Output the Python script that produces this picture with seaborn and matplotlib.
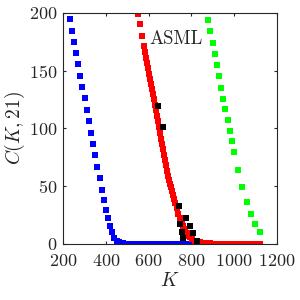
import matplotlib
matplotlib.use('Agg')
import matplotlib.pyplot as plt
import seaborn as sns
import pandas

# blue series
blue_k = [230, 240, 250, 260, 270, 280, 290, 300, 310, 320, 330, 340, 350, 360, 370,
          380, 390, 400, 410, 420, 430, 440, 450, 460, 470, 480, 490, 500, 520, 540,
          560, 580, 600, 620, 640, 660, 680, 700, 720, 740, 760, 780, 800, 820, 840]
blue_c = [194.5, 184.7, 174.9, 165.1, 155.3, 145.4, 135.6, 125.8, 115.8, 105.9, 96.1, 86.3, 76.5, 66.6, 56.8,
          46.4, 37.7, 29.0, 21.8, 15.2, 9.7, 5.0, 2.4, 1.0, 0.3, 0.1, 0, 0, 0, 0,
          0, 0, 0, 0, 0, 0, 0, 0, 0, 0, 0, 0, 0, 0, 0]

# red series
red_k = [549, 559, 569, 578, 583, 588, 592, 597, 602, 606, 611, 615, 619, 625, 630,
         634, 639, 644, 650, 655, 659, 664, 669, 673, 678, 683, 687, 692, 697, 701,
         705, 709, 714, 719, 725, 731, 739, 747, 755, 760, 766, 772, 778, 786, 794,
         805, 817, 829, 841, 856, 871, 880, 890, 900, 910, 920, 930, 940, 950, 960,
         970, 980, 990, 1000, 1020, 1040, 1060, 1080, 1100, 1120]
red_c = [199, 190, 180, 171, 166, 161, 157, 152, 147, 143, 138, 134, 130, 125, 120,
         116, 111, 106, 101, 96, 91, 86, 82, 77, 72.5, 68, 63, 59, 55, 52,
         49, 46, 42, 39, 35, 30.5, 26, 22, 17.5, 15, 12.5, 10.5, 8.8, 7, 5.4,
         3.8, 2.5, 1.6, 1.0, 0.6, 0.3, 0.2, 0.1, 0, 0, 0, 0, 0, 0, 0,
         0, 0, 0, 0, 0, 0, 0, 0, 0, 0]

# green series
green_k = [880, 890, 900, 910, 920, 930, 940, 950, 960, 970, 980, 990, 1000,
           1020, 1040, 1060, 1080, 1100, 1120]
green_c = [193.9, 184.1, 174.2, 164.7, 154.9, 145.1, 135.2, 125.6, 116.4, 106.9, 97.6, 88.7, 79.7,
           63.8, 48.8, 35.7, 25.3, 16.9, 10.2]

# ASML observations
asml_k = [645, 666, 744, 774, 747, 794, 806, 755, 762, 825]
asml_c = [119, 101, 33, 22, 17, 15, 9, 10, 5, 2]

sns.set_style('ticks', {'xtick.direction': 'in', 'ytick.direction': 'in'})
plt.rcParams['font.family'] = ['cmr10', 'DejaVu Serif']
plt.rcParams['mathtext.fontset'] = 'cm'
plt.rcParams['axes.formatter.use_mathtext'] = True

fig, ax = plt.subplots(figsize=(3, 3), dpi=100)
fig.subplots_adjust(left=0.211, right=0.922, top=0.957, bottom=0.188)

sns.scatterplot(x=blue_k, y=blue_c, marker='s', color='#0000ff', s=14, linewidth=0, ax=ax)
sns.scatterplot(x=red_k, y=red_c, marker='s', color='#ff0000', s=14, linewidth=0, ax=ax)
sns.scatterplot(x=green_k, y=green_c, marker='s', color='#00ff00', s=14, linewidth=0, ax=ax)
sns.scatterplot(x=asml_k, y=asml_c, marker='s', color='black', s=22, linewidth=0, ax=ax)

ax.text(728, 177, 'ASML', fontsize=13.5, ha='center', va='center')

ax.set_xlim(200, 1200)
ax.set_ylim(0, 200)
ax.set_xticks([200, 400, 600, 800, 1000, 1200])
ax.set_yticks([0, 50, 100, 150, 200])
ax.tick_params(direction='in', top=True, right=True, length=2.5, width=0.8, labelsize=13)
ax.tick_params(axis='x', pad=7)
ax.tick_params(axis='y', pad=4)
for spine in ax.spines.values():
    spine.set_linewidth(0.8)
ax.set_xlabel('$K$', fontsize=14, labelpad=2)
ax.set_ylabel('$C(K,21)$', fontsize=14, labelpad=2)

fig.savefig('out.png', dpi=100)
